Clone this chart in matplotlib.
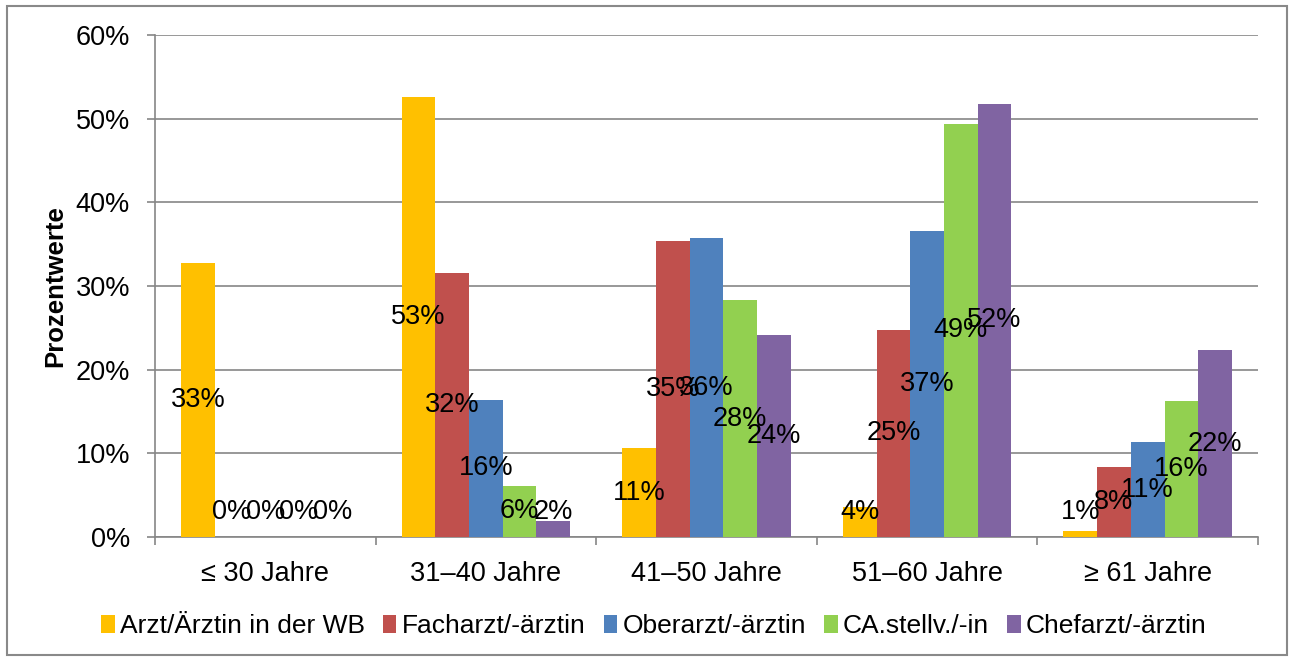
import matplotlib
matplotlib.use("Agg")
import matplotlib.pyplot as plt
from matplotlib.patches import Rectangle
import numpy as np

plt.rcParams['font.family'] = ['Liberation Sans', 'DejaVu Sans']

categories = ["≤ 30 Jahre", "31–40 Jahre", "41–50 Jahre", "51–60 Jahre", "≥ 61 Jahre"]
series_names = ["Arzt/Ärztin in der WB", "Facharzt/-ärztin", "Oberarzt/-ärztin",
                "CA.stellv./-in", "Chefarzt/-ärztin"]
arzt_wb = [32.7, 52.6, 10.6, 3.6, 0.7]
facharzt = [0.0, 31.6, 35.4, 24.8, 8.4]
oberarzt = [0.0, 16.4, 35.7, 36.6, 11.3]
ca_stellv = [0.0, 6.1, 28.3, 49.4, 16.2]
chefarzt = [0.0, 1.9, 24.1, 51.8, 22.3]
series = [arzt_wb, facharzt, oberarzt, ca_stellv, chefarzt]
colors = ["#FFC000", "#C0504D", "#4F81BD", "#92D050", "#8064A2"]
yticks = [0, 10, 20, 30, 40, 50, 60]

W, H = 1293, 659
fig = plt.figure(figsize=(W / 100, H / 100), dpi=100)
ax = fig.add_axes([155 / W, 1 - 537 / H, (1258 - 155) / W, (537 - 35) / H])

grid_c = "#868686"
fs = 19.5
x = np.arange(len(categories))
bw = 0.1528
for i, (vals, name, c) in enumerate(zip(series, series_names, colors)):
    xs = x + (i - 2) * bw
    ax.bar(xs, vals, width=bw, color=c, label=name, zorder=3, linewidth=0)
    for xx, v in zip(xs, vals):
        ax.text(xx, max(v / 2, 3.0), f"{round(v):d}%", ha="center", va="center",
                fontsize=fs, color="black", zorder=5)

ax.set_xlim(-0.5, len(categories) - 0.5)
ax.set_ylim(0, 60)
ax.set_yticks(yticks)
ax.set_yticklabels([f"{t}%" for t in yticks], fontsize=fs)
ax.yaxis.grid(True, color=grid_c, linewidth=1.2, zorder=0)
ax.tick_params(axis="y", length=6, width=1.2, color=grid_c, pad=12)

ax.set_xticks(np.arange(-0.5, len(categories)), minor=False)
ax.set_xticklabels([])
ax.tick_params(axis="x", which="major", length=6, width=1.2, color=grid_c, direction="out")
ax.set_xticks(x, minor=True)
ax.set_xticklabels(categories, minor=True, fontsize=fs)
ax.tick_params(axis="x", which="minor", length=0, pad=17)

for s in ["top", "right"]:
    ax.spines[s].set_visible(False)
for s in ["left", "bottom"]:
    ax.spines[s].set_color(grid_c)
    ax.spines[s].set_linewidth(1.2)

fig.text(55 / W, 1 - 286 / H, "Prozentwerte", rotation=90, ha="center", va="center",
         fontsize=18.5, fontweight="bold")

leg = fig.legend(loc="center", bbox_to_anchor=(654 / W, 1 - 626 / H), ncol=5,
                 frameon=False, fontsize=19, handlelength=0.5, handleheight=0.7,
                 handletextpad=0.2, columnspacing=0.7)

fig.patches.append(Rectangle((7 / W, 1 - 655 / H), (1287 - 7) / W, (655 - 6) / H,
                             transform=fig.transFigure, fill=False,
                             edgecolor="#898989", linewidth=1.5))

fig.savefig("out.png", dpi=100)
